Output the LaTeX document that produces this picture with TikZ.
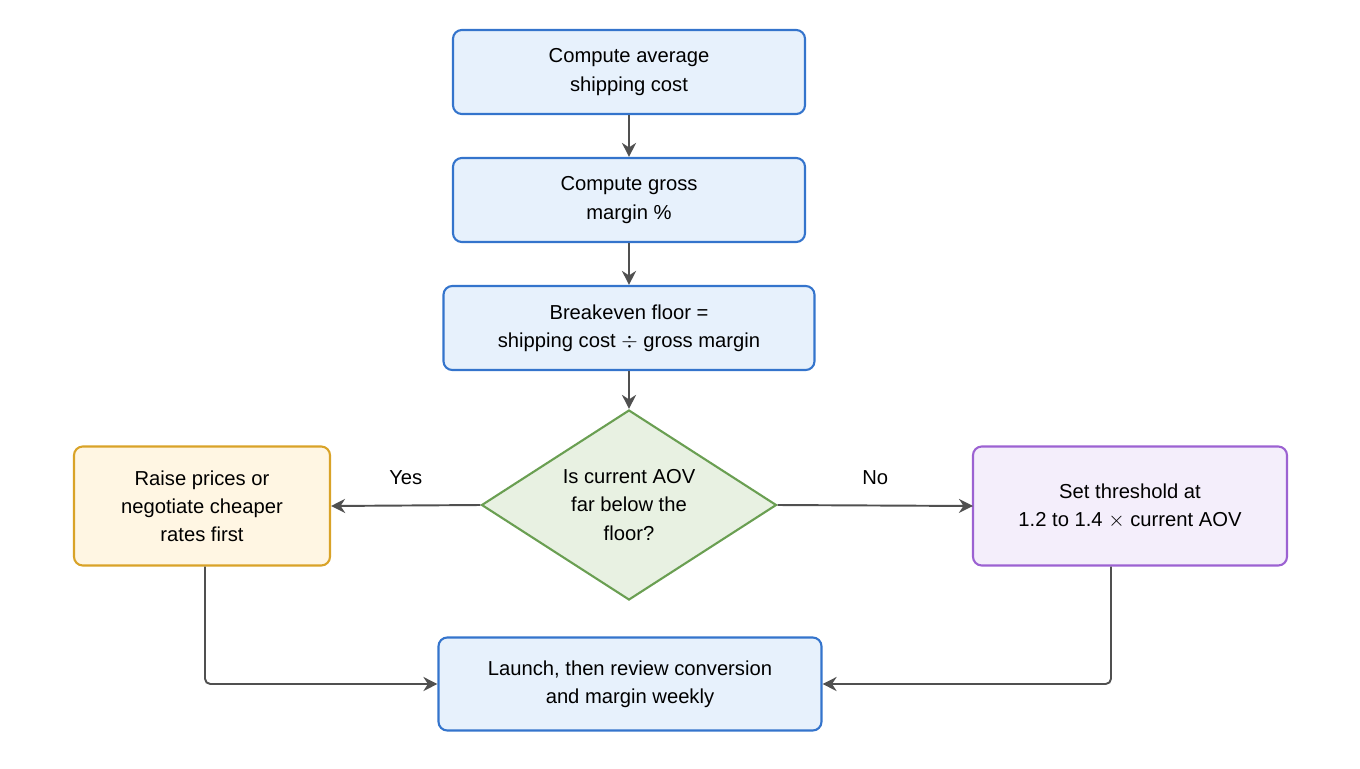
\documentclass[tikz,border=0pt]{standalone}
\usepackage{fontspec}
\setmainfont{Liberation Sans}
\usetikzlibrary{shapes.geometric,arrows.meta}
\definecolor{bluefill}{HTML}{E7F1FC}
\definecolor{blueline}{HTML}{3474CC}
\definecolor{orangefill}{HTML}{FFF6E3}
\definecolor{orangeline}{HTML}{D9A328}
\definecolor{purplefill}{HTML}{F4EEFB}
\definecolor{purpleline}{HTML}{9C62D2}
\definecolor{greenfill}{HTML}{E8F1E2}
\definecolor{greenline}{HTML}{6A9F52}
\definecolor{arrowgray}{HTML}{505050}
\tikzset{
  box/.style={draw, line width=1.2pt, rounded corners=5pt, align=center,
    font=\fontsize{11.5}{16}\selectfont, inner sep=0pt},
  stepbox/.style={box, draw=blueline, fill=bluefill},
  arr/.style={draw=arrowgray, line width=1.1pt, -{Stealth[length=8pt,width=8pt]}}
}
\begin{document}
\begin{tikzpicture}[x=0.02cm,y=-0.02cm]
  \useasboundingbox (0,0) rectangle (1360,768);
  \node[stepbox, minimum width=352*0.02cm, minimum height=84*0.02cm] (avg) at (629,72) {Compute average\\shipping cost};
  \node[stepbox, minimum width=352*0.02cm, minimum height=84*0.02cm] (gm) at (629,200) {Compute gross\\margin \%};
  \node[stepbox, minimum width=371*0.02cm, minimum height=84*0.02cm] (floor) at (629,328) {Breakeven floor =\\shipping cost $\div$ gross margin};
  \node[diamond, draw=greenline, fill=greenfill, line width=1.2pt, aspect=1.55, inner sep=0pt,
    minimum width=295*0.02cm, minimum height=190*0.02cm, align=center,
    font=\fontsize{11.5}{16}\selectfont] (aov) at (629,505) {Is current AOV\\far below the\\floor?};
  \node[box, draw=orangeline, fill=orangefill, minimum width=256*0.02cm, minimum height=119*0.02cm] (raise) at (202,506) {Raise prices or\\negotiate cheaper\\rates first};
  \node[box, draw=purpleline, fill=purplefill, minimum width=314*0.02cm, minimum height=119*0.02cm] (set) at (1130,506) {Set threshold at\\1.2 to 1.4 $\times$ current AOV};
  \node[stepbox, minimum width=383*0.02cm, minimum height=93*0.02cm] (launch) at (630,684) {Launch, then review conversion\\and margin weekly};
  \draw[arr] (avg) -- (gm);
  \draw[arr] (gm) -- (floor);
  \draw[arr] (floor) -- (aov);
  \draw[arr] (aov.west) -- node[above=8pt, font=\fontsize{11.5}{14}\selectfont] {Yes} (raise.east);
  \draw[arr] (aov.east) -- node[above=8pt, font=\fontsize{11.5}{14}\selectfont] {No} (set.east -| 973,0);
  \draw[arr, rounded corners=3pt] (raise.south -| 205,0) |- (launch.west);
  \draw[arr, rounded corners=3pt] (set.south -| 1111,0) |- (launch.east);
\end{tikzpicture}
\end{document}
